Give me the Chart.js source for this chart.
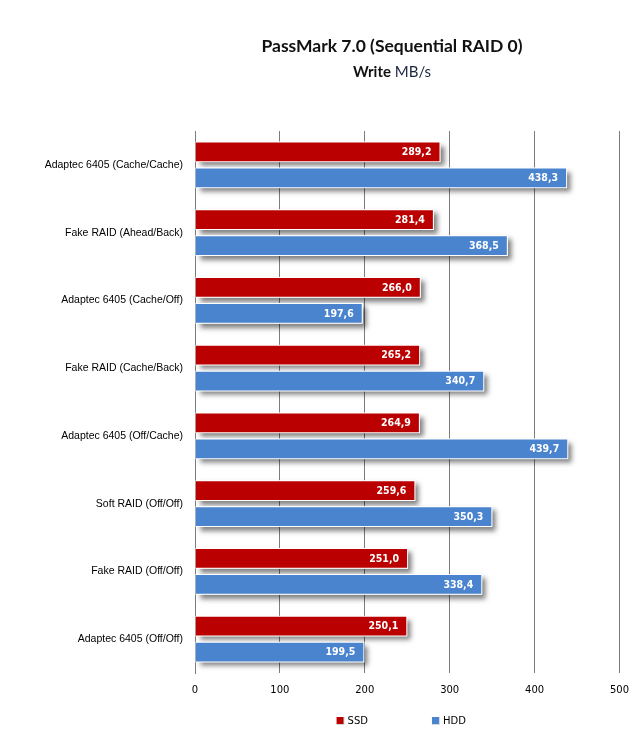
<!DOCTYPE html>
<html>
<head>
<meta charset="utf-8">
<script src="https://cdn.jsdelivr.net/npm/chart.js@4.4.1/dist/chart.umd.min.js"></script>
<style>
  html, body { margin: 0; padding: 0; background: #ffffff; }
  #wrap { width: 640px; height: 730px; }
</style>
</head>
<body>
<div id="wrap"><canvas id="c" width="640" height="730"></canvas></div>
<script>
// ---- data ----
const categories = [
  'Adaptec 6405 (Cache/Cache)',
  'Fake RAID (Ahead/Back)',
  'Adaptec 6405 (Cache/Off)',
  'Fake RAID (Cache/Back)',
  'Adaptec 6405 (Off/Cache)',
  'Soft RAID (Off/Off)',
  'Fake RAID (Off/Off)',
  'Adaptec 6405 (Off/Off)'
];
const ssdValues = [289.2, 281.4, 266.0, 265.2, 264.9, 259.6, 251.0, 250.1];
const hddValues = [438.3, 368.5, 197.6, 340.7, 439.7, 350.3, 338.4, 199.5];
const seriesNames = ['SSD', 'HDD'];
const xTicks = [0, 100, 200, 300, 400, 500];
const titleText = 'PassMark 7.0 (Sequential RAID 0)';
const subtitleBold = 'Write';
const subtitleRest = ' MB/s';

const RED = '#BA0000';
const BLUE = '#4A84CF';

// ---- plugins ----
const shadowPlugin = {
  id: 'barShadow',
  beforeDatasetsDraw(chart) {
    const ctx = chart.ctx;
    ctx.save();
    ctx.shadowColor = 'rgba(0,0,0,0.5)';
    ctx.shadowBlur = 5;
    ctx.shadowOffsetX = 4;
    ctx.shadowOffsetY = 4;
    ctx.fillStyle = '#ffffff';
    chart.data.datasets.forEach((ds, i) => {
      const meta = chart.getDatasetMeta(i);
      meta.data.forEach(el => {
        const p = el.getProps(['x', 'y', 'base', 'height'], true);
        ctx.fillRect(p.base, p.y - p.height / 2, p.x - p.base, p.height);
      });
    });
    ctx.restore();
  }
};

const valueLabelPlugin = {
  id: 'valueLabels',
  afterDatasetsDraw(chart) {
    const ctx = chart.ctx;
    ctx.save();
    ctx.font = "bold 10.5px 'DejaVu Sans Condensed', 'DejaVu Sans', sans-serif";
    ctx.fillStyle = '#ffffff';
    ctx.textAlign = 'right';
    ctx.textBaseline = 'middle';
    chart.data.datasets.forEach((ds, i) => {
      const meta = chart.getDatasetMeta(i);
      meta.data.forEach((el, j) => {
        const p = el.getProps(['x', 'y'], true);
        const txt = Number(ds.data[j]).toFixed(1).replace('.', ',');
        ctx.fillText(txt, p.x - 9, p.y + 0.5);
      });
    });
    ctx.restore();
  }
};

const headerLegendPlugin = {
  id: 'headerLegend',
  afterDraw(chart) {
    const ctx = chart.ctx;
    const area = chart.chartArea;
    ctx.save();
    // title
    ctx.textAlign = 'center';
    ctx.textBaseline = 'alphabetic';
    ctx.fillStyle = '#111111';
    ctx.font = "bold 17.5px Lato, 'Open Sans', sans-serif";
    ctx.fillText(titleText, 392, 52);
    // subtitle (mixed style)
    ctx.font = "bold 15px Lato, 'Open Sans', sans-serif";
    const wB = ctx.measureText(subtitleBold).width;
    ctx.font = "15px Lato, 'Open Sans', sans-serif";
    const wR = ctx.measureText(subtitleRest).width;
    let sx = 392 - (wB + wR) / 2;
    ctx.textAlign = 'left';
    ctx.font = "bold 15px Lato, 'Open Sans', sans-serif";
    ctx.fillStyle = '#111111';
    ctx.fillText(subtitleBold, sx, 77);
    ctx.font = "15px Lato, 'Open Sans', sans-serif";
    ctx.fillStyle = '#1a2640';
    ctx.fillText(subtitleRest, sx + wB, 77);

    // legend
    ctx.font = "10px 'DejaVu Sans', sans-serif";
    ctx.textBaseline = 'middle';
    const box = 7, gapTxt = 4, gapItem = 64;
    const items = chart.data.datasets.map(ds => ({
      label: ds.label, color: ds.backgroundColor,
      w: box + gapTxt + ctx.measureText(ds.label).width
    }));
    const total = items.reduce((s, it) => s + it.w, 0) + gapItem * (items.length - 1);
    let lx = (area.left + area.right) / 2 - 6 - total / 2;
    const ly = 721;
    items.forEach(it => {
      ctx.fillStyle = it.color;
      ctx.fillRect(lx, ly - 4, box, box);
      ctx.strokeStyle = 'rgba(0,0,0,0.15)';
      ctx.lineWidth = 1;
      ctx.beginPath();
      ctx.moveTo(lx + box + 0.5, ly - 4);
      ctx.lineTo(lx + box + 0.5, ly + 3.5);
      ctx.lineTo(lx, ly + 3.5);
      ctx.stroke();
      ctx.fillStyle = '#000000';
      ctx.fillText(it.label, lx + box + gapTxt, ly);
      lx += it.w + gapItem;
    });
    ctx.restore();
  }
};

// ---- chart ----
new Chart(document.getElementById('c'), {
  type: 'bar',
  data: {
    labels: categories,
    datasets: [
      { label: seriesNames[0], data: ssdValues, backgroundColor: RED, borderColor: '#ffffff', borderWidth: 1 },
      { label: seriesNames[1], data: hddValues, backgroundColor: BLUE, borderColor: '#ffffff', borderWidth: 1 }
    ]
  },
  options: {
    indexAxis: 'y',
    responsive: false,
    animation: false,
    datasets: { bar: { categoryPercentage: 0.7675, barPercentage: 0.79 } },
    layout: { padding: { top: 131, right: 20, bottom: 30, left: 0 } },
    plugins: {
      legend: { display: false },
      title: { display: false },
      tooltip: { enabled: false }
    },
    scales: {
      x: {
        type: 'linear',
        min: xTicks[0],
        max: xTicks[xTicks.length - 1],
        afterBuildTicks: s => { s.ticks = xTicks.map(v => ({ value: v })); },
        afterFit: s => { s.height = 27; },
        grid: { color: '#7c7c7c', lineWidth: 1, drawTicks: false },
        border: { display: false },
        ticks: { padding: 11, color: '#000000', font: { family: "'DejaVu Sans', sans-serif", size: 10 } }
      },
      y: {
        afterFit: s => { s.width = 195; },
        grid: { display: false, drawTicks: false },
        border: { display: true, color: '#7c7c7c', width: 1 },
        ticks: { padding: 12, color: '#000000', font: { family: "'Liberation Sans', Arial, sans-serif", size: 10.5 } }
      }
    }
  },
  plugins: [shadowPlugin, valueLabelPlugin, headerLegendPlugin]
});
</script>
</body>
</html>
